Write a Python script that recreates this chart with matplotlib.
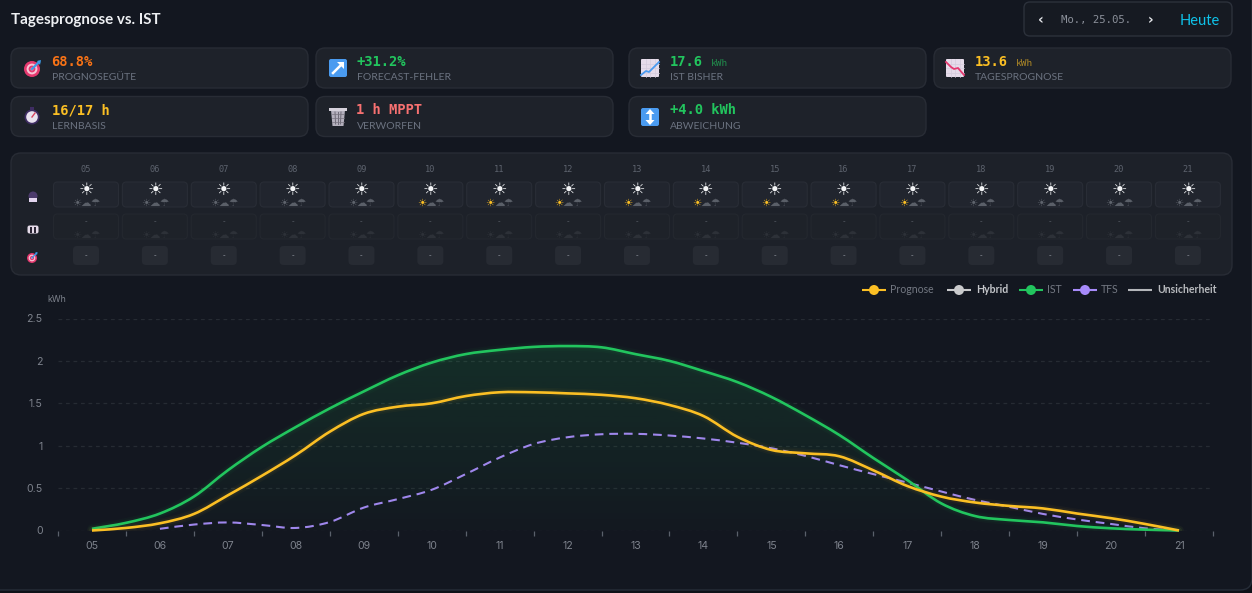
import numpy as np
import matplotlib
matplotlib.use("Agg")
import matplotlib.pyplot as plt
from matplotlib.patches import FancyBboxPatch, Circle, Rectangle, Polygon, PathPatch
from matplotlib.path import Path

hours = ['05','06','07','08','09','10','11','12','13','14','15','16','17','18','19','20','21']
half_hours = [5+0.5*i for i in range(33)]
ist = [0.02,0.09,0.20,0.40,0.71,0.985,1.22,1.44,1.64,1.83,1.98,2.08,2.13,2.165,2.175,2.16,2.08,2.00,
       1.88,1.75,1.575,1.36,1.126,0.855,0.595,0.32,0.17,0.124,0.096,0.053,0.026,0.01,0.0]
prognose = [0.0,0.03,0.085,0.195,0.415,0.645,0.89,1.165,1.375,1.46,1.50,1.585,1.63,1.63,1.617,1.60,1.56,1.48,
            1.35,1.105,0.95,0.91,0.875,0.71,0.525,0.40,0.33,0.29,0.26,0.20,0.145,0.077,0.0]
tfs_hours = half_hours[2:]
tfs = [0.02,0.07,0.095,0.065,0.03,0.10,0.27,0.37,0.48,0.665,0.86,1.02,1.10,1.135,1.14,1.12,
       1.085,1.035,0.97,0.88,0.77,0.665,0.565,0.46,0.36,0.28,0.195,0.13,0.077,0.026,0.0]
y_ticks = [0,0.5,1,1.5,2,2.5]
y_labels = ['0','0.5','1','1.5','2','2.5']
sun_active = ['10','11','12','13','14','15','16','17']
legend_items = ['Prognose','Hybrid','IST','TFS','Unsicherheit']

BG='#131720'; CARD='#1e222a'; CARDB='#282c35'; MUTED='#6b7280'
GREEN='#22c55e'; AMBER='#fbbf24'; PURPLE='#9f87ec'; RED='#f87171'; ORANGE='#f97316'
W,H=1252,593
fig=plt.figure(figsize=(W/100,H/100),dpi=100,facecolor='#0e1118')
ui=fig.add_axes([0,0,1,1],zorder=0); ui.set_xlim(0,W); ui.set_ylim(H,0); ui.axis('off')

def box(x0,y0,x1,y1,r,fc,ec,lw=1,z=1,ax=ui):
    p=FancyBboxPatch((x0+r,y0+r),x1-x0-2*r,y1-y0-2*r,boxstyle=f"round,pad={r},rounding_size={r}",
                     fc=fc,ec=ec,lw=lw,zorder=z)
    ax.add_patch(p); return p

box(-20,-20,1252,590,12,BG,'#262d38',1,0)

ui.text(11,20,'Tagesprognose vs. IST',fontsize=10.9,fontweight='bold',color='#eef0f3',family='Lato',va='center')
box(1024,2,1232,36,6,'#161a22','#2c313b')
ui.text(1041,20,'‹',fontsize=10,fontweight='bold',color='#e5e7eb',ha='center',va='center',family='DejaVu Sans')
ui.text(1096.5,19.5,'Mo., 25.05.',fontsize=7.7,color='#8b909a',ha='center',va='center',family='DejaVu Sans Mono')
ui.text(1151,20,'›',fontsize=10,fontweight='bold',color='#e5e7eb',ha='center',va='center',family='DejaVu Sans')
ui.text(1200,21,'Heute',fontsize=10.5,color='#0fc3ea',ha='center',va='center',family='Lato')

def ic_target(cx,cy,s=1.0):
    for r,c in [(8,'#e5396f'),(5.4,'#f8c4d4'),(3.4,'#e5396f'),(1.4,'#f8c4d4')]:
        ui.add_patch(Circle((cx,cy+1),r*s,fc=c,ec='none',zorder=3))
    ui.plot([cx,cx+7*s],[cy+1,cy-6*s],color='#3b9be8',lw=1.6*s,zorder=4)
    ui.add_patch(Polygon([(cx+5*s,cy-7*s),(cx+9*s,cy-8*s),(cx+8*s,cy-3*s)],fc='#3b9be8',ec='none',zorder=4))
def ic_arrow(cx,cy):
    box(cx-9,cy-9,cx+9,cy+9,2,'#4a9bf0','none',0,3)
    ui.plot([cx-5,cx+2],[cy+5,cy-2],color='white',lw=1.8,zorder=4)
    ui.add_patch(Polygon([(cx-1,cy-6),(cx+6,cy-6),(cx+6,cy+1)],fc='white',ec='none',zorder=4))
def ic_updown(cx,cy):
    box(cx-9,cy-9,cx+9,cy+9,2,'#4a9bf0','none',0,3)
    ui.plot([cx,cx],[cy-4,cy+4],color='white',lw=1.8,zorder=4)
    ui.add_patch(Polygon([(cx-4.5,cy-3),(cx+4.5,cy-3),(cx,cy-8)],fc='white',ec='none',zorder=4))
    ui.add_patch(Polygon([(cx-4.5,cy+3),(cx+4.5,cy+3),(cx,cy+8)],fc='white',ec='none',zorder=4))
def ic_chart(cx,cy,xs,ys,c):
    box(cx-9,cy-9,cx+9,cy+9,1,'#e6dcea','none',0,3)
    for d in (-4.5,0,4.5):
        ui.plot([cx+d,cx+d],[cy-9,cy+9],color='#d4ccdc',lw=0.5,zorder=4)
        ui.plot([cx-9,cx+9],[cy+d,cy+d],color='#d4ccdc',lw=0.5,zorder=4)
    ui.plot([cx+v for v in xs],[cy+v for v in ys],color=c,lw=1.3,zorder=5)
def ic_watch(cx,cy):
    ui.add_patch(Circle((cx,cy+1),7.5,fc='#3f2d63',ec='none',zorder=3))
    ui.add_patch(Circle((cx,cy+1),5.8,fc='#e9e3ef',ec='none',zorder=4))
    ui.plot([cx,cx+3],[cy+1,cy-3],color='#d9455f',lw=1,zorder=5)
    ui.add_patch(Rectangle((cx-2,cy-9),4,2.5,fc='#3f2d63',ec='none',zorder=3))
def ic_bin(cx,cy):
    ui.add_patch(Polygon([(cx-7,cy-7),(cx+7,cy-7),(cx+5.5,cy+9),(cx-5.5,cy+9)],fc='#b4b0bd',ec='none',zorder=3))
    ui.add_patch(Rectangle((cx-9,cy-9),18,2.5,fc='#d5d1db',ec='none',zorder=4))
    for d in (-3,0,3):
        ui.plot([cx+d,cx+d*0.8],[cy-5,cy+7],color='#6f6b78',lw=0.7,zorder=4)
    for d in (-2,2,6):
        ui.plot([cx-6,cx+6],[cy+d-1,cy+d-1],color='#77737f',lw=0.5,zorder=4)

def card(x0,y0,value,vc,label,unit=None):
    y1=y0+40
    box(x0,y0,x0+297,y1,9,CARD,CARDB)
    ui.text(x0+40.5,y0+14,value,fontsize=9.9,fontweight='bold',color=vc,va='center',family='DejaVu Sans Mono')
    if unit:
        ui.text(x0+41+len(value)*8.2+8,y0+15,unit,fontsize=6.8,color=vc,alpha=0.65,va='center',family='DejaVu Sans Mono')
    ui.text(x0+41,y0+30,label,fontsize=7.5,color=MUTED,va='center',family='Lato')

card(11,48,'68.8%',ORANGE,'PROGNOSEGÜTE'); ic_target(32,68)
card(316,48,'+31.2%',GREEN,'FORECAST-FEHLER'); ic_arrow(338,68)
card(629,48,'17.6',GREEN,'IST BISHER','kWh'); ic_chart(650,68,[-9,-4,-1,3,9],[7,3,4,0,-6],'#4a9bf0')
card(934,48,'13.6',AMBER,'TAGESPROGNOSE','kWh'); ic_chart(955,68,[-9,-4,-1,3,9],[-6,-1,1,0,7],'#e5396f')
card(11,96.5,'16/17 h',AMBER,'LERNBASIS'); ic_watch(32,116)
card(316,96.5,'1 h MPPT',RED,'VERWORFEN'); ic_bin(338,117)
card(629,96.5,'+4.0 kWh',GREEN,'ABWEICHUNG'); ic_updown(650,117)

box(11,153,1232,275,10,'#1d2129','#282c35')
for i,h in enumerate(hours):
    cx=86+i*68.87
    ui.text(cx,169,h,fontsize=6.2,color='#5d636e',ha='center',va='center',family='DejaVu Sans Mono')
    box(cx-32.5,182,cx+32.5,207,4,'#21252e','#292d36',0.8,2)
    box(cx-32.5,214,cx+32.5,239,4,'#1e2229','#24282f',0.8,2)
    box(cx-13,246,cx+13,265,4,'#272b33','none',0,2)
    ui.text(cx,190,'☀',fontsize=12.5,fontweight='bold',color='#f4f5f7',ha='center',va='center',family='DejaVu Sans',zorder=3)
    act=h in sun_active
    ui.text(cx-9,203,'☀',fontsize=7.5,fontweight='bold',color=AMBER if act else '#5f646d',ha='center',va='center',family='DejaVu Sans',zorder=3)
    ui.text(cx,203,'☁',fontsize=7.5,color='#5a5f68',ha='center',va='center',family='DejaVu Sans',zorder=3)
    ui.text(cx+9,203,'☂',fontsize=7.5,color='#5a5f68',ha='center',va='center',family='DejaVu Sans',zorder=3)
    ui.text(cx,222,'-',fontsize=5.5,color='#50555e',ha='center',va='center',family='DejaVu Sans Mono',zorder=3)
    for d,g in ((-9,'☀'),(0,'☁'),(9,'☂')):
        ui.text(cx+d,235,g,fontsize=7.5,color='#2d3138',ha='center',va='center',family='DejaVu Sans',zorder=3)
    ui.text(cx,256,'-',fontsize=5.5,color='#7d828b',ha='center',va='center',family='DejaVu Sans Mono',zorder=3)
# row icons
ui.add_patch(Circle((33,196),4.5,fc='#4b3a6b',ec='none',zorder=3))
ui.add_patch(Rectangle((29,198),8,4,fc='#e2d4ee',ec='none',zorder=4))
box(27.5,225.5,38.5,233.5,2,'#e6dcea','none',0,3)
for d in (-2.3,2.3):
    ui.add_patch(Rectangle((33+d-1.2,226.5),2.4,6,fc='#2a2433',ec='none',zorder=4))
ic_target(32,257,0.62)

# Chart
ax=fig.add_axes([58/W,1-530.5/H,(1213-58)/W,212/H],zorder=2)
ax.patch.set_alpha(0)
ax.set_xlim(4.5,21.5); ax.set_ylim(0,2.5)

def smooth(xs,ys):
    xs=np.asarray(xs,float); ys=np.asarray(ys,float)
    m=np.gradient(ys,xs)
    v=[(xs[0],ys[0])]; c=[Path.MOVETO]
    for i in range(len(xs)-1):
        d=(xs[i+1]-xs[i])/3
        v+= [(xs[i]+d,ys[i]+m[i]*d),(xs[i+1]-d,ys[i+1]-m[i+1]*d),(xs[i+1],ys[i+1])]
        c+= [Path.CURVE4]*3
    return Path(v,c)

pi=smooth(half_hours,ist)
area=Path(list(pi.vertices)+[(21,0),(5,0),(5,ist[0])],list(pi.codes)+[Path.LINETO,Path.LINETO,Path.LINETO])
grad=np.zeros((256,1,4)); grad[...,:3]=matplotlib.colors.to_rgb(GREEN)
grad[:,0,3]=np.linspace(0.14,0.012,256)
im=ax.imshow(grad,extent=(5,21,0,2.2),aspect='auto',origin='upper',zorder=1)
clip=PathPatch(area,transform=ax.transData,fc='none',ec='none'); ax.add_patch(clip); im.set_clip_path(clip)
ax.set_xlim(4.5,21.5); ax.set_ylim(0,2.5)

ax.set_yticks(y_ticks); ax.set_yticklabels(y_labels)
ax.yaxis.grid(True,color='#262b33',lw=0.9,ls=(0,(3,3)),zorder=0)
ax.set_axisbelow(True)
ax.set_xticks([4.5+i for i in range(18)]); ax.set_xticklabels([])
ax.set_xticks(range(5,22),minor=True); ax.set_xticklabels(hours,minor=True)
ax.tick_params(axis='x',which='major',length=3.6,width=0.9,color='#5a606b',pad=2)
ax.tick_params(axis='x',which='minor',length=0,pad=7.5,labelsize=7.6,labelcolor='#7d828c')
ax.tick_params(axis='y',length=0,pad=11,labelsize=7.6,labelcolor='#7d828c')
for s in ax.spines.values(): s.set_visible(False)
for l in ax.get_xticklabels(minor=True)+ax.get_yticklabels(): l.set_family('Inter')

def curve(p,c,lw,z,ls='-',glow=True):
    if glow:
        for w,a in ((lw+5,0.03),(lw+2.5,0.05)):
            ax.add_patch(PathPatch(p,fc='none',ec=c,lw=w,alpha=a,zorder=z-1,capstyle='round'))
    ax.add_patch(PathPatch(p,fc='none',ec=c,lw=lw,ls=ls,zorder=z,capstyle='butt',joinstyle='round',clip_on=False))

curve(smooth(tfs_hours,tfs),PURPLE,1.5,4,ls=(0,(4.2,2.8)),glow=False)
curve(pi,GREEN,1.9,5)
curve(smooth(half_hours,prognose),AMBER,1.9,6)

ui.text(47,299,'kWh',fontsize=6.4,color='#7d828c',va='center',family='Inter')

# Legend
fl=fig.add_axes([0,0,1,1],zorder=3); fl.set_xlim(0,W); fl.set_ylim(H,0); fl.axis('off'); fl.patch.set_alpha(0)
ly=290
def leg(x,c,label,tc,weight='normal',tx=None,marker=True):
    fl.plot([x,x+24],[ly,ly],color=c,lw=1.5,solid_capstyle='butt')
    if marker:
        fl.add_patch(Circle((x+12,ly),5,fc=c,ec='none',zorder=3))
    fl.text(tx,ly-0.5,label,fontsize=7.6,color=tc,fontweight=weight,va='center',family='Lato')
leg(862,AMBER,legend_items[0],'#737882',tx=890)
leg(947,'#c9cacc',legend_items[1],'#c4c6ca','bold',tx=976)
leg(1019,GREEN,legend_items[2],'#737882',tx=1047)
leg(1073,'#a78bfa',legend_items[3],'#737882',tx=1101)
leg(1128,'#b4b6ba',legend_items[4],'#b8babe','bold',tx=1157,marker=False)

fig.savefig('out.png',dpi=100,facecolor=fig.get_facecolor())
